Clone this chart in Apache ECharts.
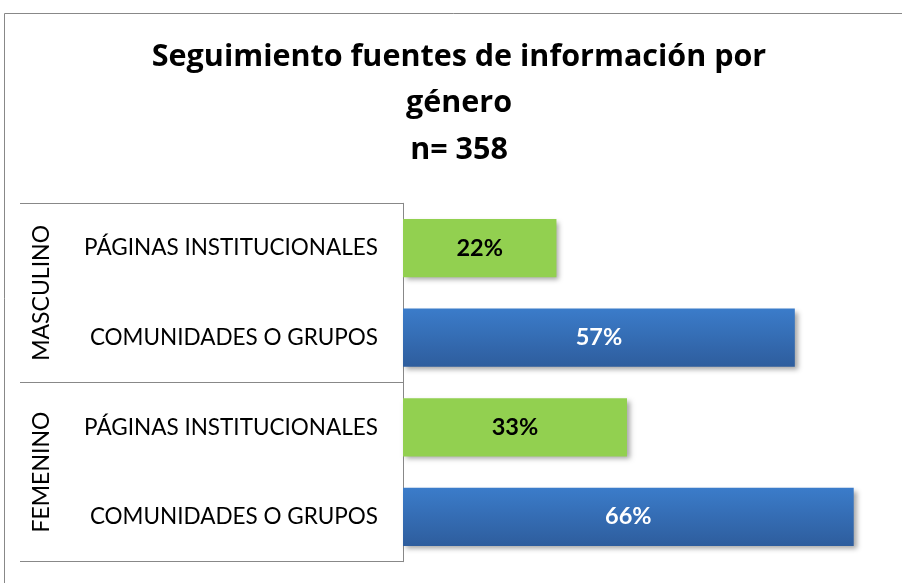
<!DOCTYPE html>
<html><head><meta charset="utf-8">
<script src="https://cdn.jsdelivr.net/npm/echarts@6/dist/echarts.min.js"></script>
<style>html,body{margin:0;padding:0;background:#fff}#c{width:902px;height:583px}</style>
</head><body><div id="c"></div>
<script>
const titleText = 'Seguimiento fuentes de información por\ngénero\nn= 358';
const groups = ['MASCULINO', 'FEMENINO'];
const categories = ['PÁGINAS INSTITUCIONALES', 'COMUNIDADES O GRUPOS', 'PÁGINAS INSTITUCIONALES', 'COMUNIDADES O GRUPOS'];
const values = [22.4, 57.2, 32.7, 65.8];
const kinds = ['pag', 'com', 'pag', 'com'];

const green = '#92D050';
const blue = {type:'linear',x:0,y:0,x2:0,y2:1,colorStops:[{offset:0,color:'#3B7CCA'},{offset:1,color:'#2E5D9D'}]};
const FONT = 'Lato';

const chart = echarts.init(document.getElementById('c'));
chart.setOption({
  animation:false,
  backgroundColor:'#fff',
  title:{text:titleText,left:459,textAlign:'center',top:34,padding:0,
    textStyle:{fontFamily:'Open Sans',fontWeight:'bold',fontSize:30.5,lineHeight:46.5,color:'#000'}},
  graphic:[{type:'rect',shape:{x:4.5,y:13.5,width:1000,height:1000},style:{fill:'none',stroke:'#888',lineWidth:1},silent:true}],
  grid:{left:403,right:19.5,top:203.3,bottom:21.3,containLabel:false},
  xAxis:{type:'value',min:0,max:70,show:false},
  yAxis:[
    {type:'category',data:categories,inverse:true,position:'left',
     axisLine:{show:true,lineStyle:{color:'#888',width:1}},axisTick:{show:false},
     axisLabel:{fontFamily:FONT,fontSize:22.5,color:'#000',margin:25},splitLine:{show:false}},
    {type:'category',data:groups,inverse:true,position:'left',
     axisLine:{show:false},axisTick:{show:true,length:383,lineStyle:{color:'#888',width:1}},
     axisLabel:{fontFamily:FONT,fontSize:23,color:'#000',rotate:90,margin:350},splitLine:{show:false}}
  ],
  series:[{type:'bar',yAxisIndex:0,barWidth:'65%',
    data:values.map((v,i)=>({value:v,itemStyle:{color:kinds[i]==='pag'?green:blue},
      label:{color:kinds[i]==='pag'?'#000':'#fff'}})),
    itemStyle:{shadowBlur:5,shadowOffsetX:3,shadowOffsetY:3,shadowColor:'rgba(0,0,0,0.35)'},
    label:{show:true,position:'inside',fontFamily:FONT,fontWeight:'bold',fontSize:23.5,
      formatter:p=>Math.round(p.value)+'%'}}]
});
</script></body></html>
